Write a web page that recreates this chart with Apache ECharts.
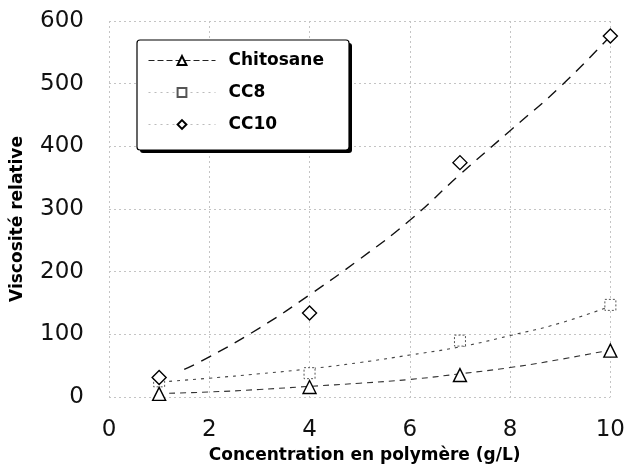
<!DOCTYPE html>
<html>
<head>
<meta charset="utf-8">
<script src="https://cdn.jsdelivr.net/npm/echarts@6/dist/echarts.min.js"></script>
<style>
html,body{margin:0;padding:0;background:#fff;}
#chart{width:628px;height:469px;}
</style>
</head>
<body>
<div id="chart"></div>
<script>
// Measured points
const concentrations = [1, 4, 7, 10];
const chitosane = [5, 16, 35, 74];
const cc8 = [25, 38, 90, 147];
const cc10 = [31, 134, 374, 576];

// Fitted curves
const chitosaneFitX = [1.2, 2, 3, 4, 5, 6, 7, 8, 9, 10];
const chitosaneFitY = [6, 8, 12, 17, 22, 28, 37, 47, 60, 75];
const cc8FitX = [1.2, 2, 3, 4, 5, 6, 7, 8, 9, 10];
const cc8FitY = [25, 30, 37, 45, 55, 67, 80, 98, 118, 145];
const cc10FitX = [1.5, 2, 3, 4, 5, 6, 7, 8, 9, 10];
const cc10FitY = [44, 64, 110, 163, 220, 282, 355, 425, 495, 576];

const seriesNames = ['Chitosane', 'CC8', 'CC10'];
const xTicks = [0, 2, 4, 6, 8, 10];
const yTicks = [0, 100, 200, 300, 400, 500, 600];
const xTitle = 'Concentration en polymère (g/L)';
const yTitle = 'Viscosité relative';

const zip = (xs, ys) => xs.map((x, i) => [x, ys[i]]);
const boldFont = 'DejaVu Sans';

const chart = echarts.init(document.getElementById('chart'), null, {renderer: 'canvas'});

const markerStyle = {color: '#fff', borderColor: '#000', borderWidth: 1.4};

chart.setOption({
  animation: false,
  backgroundColor: '#fff',
  grid: {left: 109, right: 17, top: 21, bottom: 72, containLabel: false},
  graphic: [
    {type: 'rect', z: 3, shape: {x: 140, y: 43, width: 212, height: 110, r: 3}, style: {fill: '#000'}},
    {type: 'rect', z: 3, shape: {x: 137, y: 40, width: 212, height: 110, r: 3}, style: {fill: '#fff', stroke: '#000', lineWidth: 1.2}}
  ],
  xAxis: {
    type: 'value', min: xTicks[0], max: xTicks[xTicks.length - 1], interval: 2,
    name: xTitle, nameLocation: 'middle', nameGap: 48,
    nameTextStyle: {fontFamily: boldFont, fontWeight: 'bold', fontSize: 17, color: '#000', padding: [0, 0, 0, 10]},
    axisLine: {show: false}, axisTick: {show: false},
    axisLabel: {fontFamily: 'DejaVu Sans', fontSize: 23, color: '#111', margin: 22},
    splitLine: {show: true, lineStyle: {color: '#c4c4c4', width: 1, type: [2, 3]}}
  },
  yAxis: {
    type: 'value', min: yTicks[0], max: yTicks[yTicks.length - 1], interval: 100,
    name: yTitle, nameLocation: 'middle', nameGap: 83, nameRotate: 90,
    nameTextStyle: {fontFamily: boldFont, fontWeight: 'bold', fontSize: 17, color: '#000', padding: [0, 20, 0, 0]},
    axisLine: {show: false}, axisTick: {show: false},
    axisLabel: {fontFamily: 'DejaVu Sans', fontSize: 23, color: '#111', margin: 25, padding: [6, 0, 0, 0]},
    splitLine: {show: true, lineStyle: {color: '#c4c4c4', width: 1, type: [2, 3]}}
  },
  legend: {
    orient: 'vertical', left: 137, top: 40, z: 4,
    padding: [12, 26, 19, 11],
    itemWidth: 67, itemHeight: 11, itemGap: 15,
    backgroundColor: 'transparent', borderWidth: 0,
    textStyle: {fontFamily: boldFont, fontWeight: 'bold', fontSize: 17, color: '#000', padding: [0, 0, 0, 8]},
    data: [
      {name: seriesNames[0], lineStyle: {color: '#222', width: 1, type: [6, 3], opacity: 1}},
      {name: seriesNames[1], lineStyle: {color: '#bbb', width: 1, type: [2, 4], opacity: 1}},
      {name: seriesNames[2], lineStyle: {color: '#bbb', width: 1, type: [2, 4], opacity: 1}}
    ]
  },
  series: [
    {name: 'fitChitosane', type: 'line', data: zip(chitosaneFitX, chitosaneFitY), smooth: true, symbol: 'none',
     lineStyle: {color: '#333', width: 1.1, type: [6, 5]}, z: 2},
    {name: 'fitCC8', type: 'line', data: zip(cc8FitX, cc8FitY), smooth: true, symbol: 'none',
     lineStyle: {color: '#444', width: 1.1, type: [3, 5]}, z: 2},
    {name: 'fitCC10', type: 'line', data: zip(cc10FitX, cc10FitY), smooth: true, symbol: 'none',
     lineStyle: {color: '#111', width: 1.4, type: [11, 8]}, z: 2},
    {name: seriesNames[0], type: 'line', data: zip(concentrations, chitosane), symbol: 'triangle', symbolSize: 13,
     lineStyle: {opacity: 0}, itemStyle: markerStyle, z: 5},
    {name: seriesNames[1], type: 'line', data: zip(concentrations, cc8), symbol: 'rect', symbolSize: 11,
     lineStyle: {opacity: 0}, itemStyle: {color: '#fff', borderColor: '#555', borderWidth: 1, borderType: [2, 2]}, z: 4},
    {name: seriesNames[2], type: 'line', data: zip(concentrations, cc10), symbol: 'diamond', symbolSize: 14,
     lineStyle: {opacity: 0}, itemStyle: markerStyle, z: 6}
  ]
});
</script>
</body>
</html>
